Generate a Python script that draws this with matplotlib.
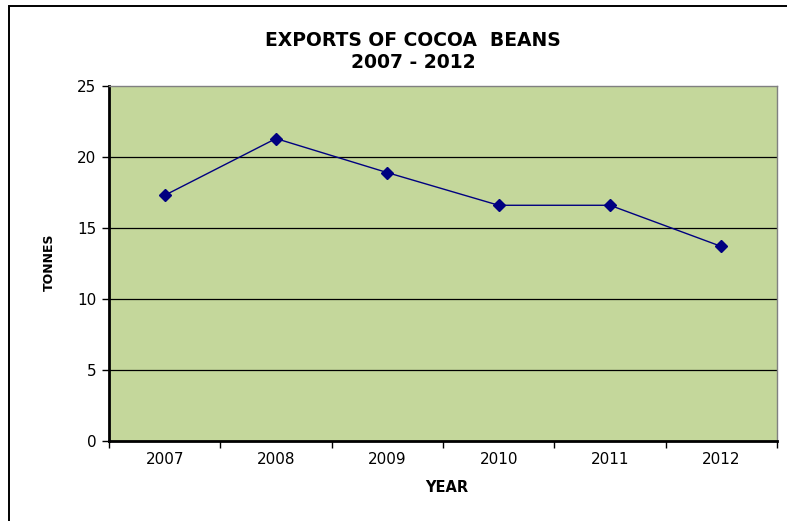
import numpy as np
import matplotlib.pyplot as plt
from matplotlib.patches import Rectangle

years = ['2007', '2008', '2009', '2010', '2011', '2012']
tonnes = [17.3, 21.3, 18.9, 16.6, 16.6, 13.7]
y_ticks = [0, 5, 10, 15, 20, 25]

plt.rcParams['font.family'] = ['DejaVu Sans']

fig = plt.figure(figsize=(7.87, 5.21), dpi=100)
# chart frame (only left and top edges visible in the crop)
fig.patches.append(Rectangle((8.5 / 787, -0.1), 1.1, 1 - 6 / 521 + 0.1, transform=fig.transFigure,
                             fill=False, edgecolor='black', linewidth=1.4))

ax = fig.add_axes([109 / 787, 80 / 521, 668 / 787, 355 / 521])
ax.set_facecolor('#c4d79b')

x = np.arange(len(years))
ax.plot(x, tonnes, color='#000080', linewidth=1.0, marker='D', markersize=6.5,
        markerfacecolor='#000080', markeredgecolor='#000080', zorder=3)

ax.set_xlim(-0.5, len(years) - 0.5)
ax.set_ylim(0, 25)
ax.set_yticks(y_ticks)
ax.tick_params(axis='y', labelsize=11, length=5, width=1, pad=4)
for yv in y_ticks[1:-1]:
    ax.axhline(yv, color='black', linewidth=0.9, zorder=1)

ax.set_xticks(x)
ax.set_xticklabels(years, fontsize=11)
ax.tick_params(axis='x', which='major', length=0, pad=8)
ax.set_xticks(np.arange(-0.5, len(years)), minor=True)
ax.tick_params(axis='x', which='minor', length=5, width=1)

for side in ['left', 'bottom']:
    ax.spines[side].set_linewidth(2)
    ax.spines[side].set_color('black')
for side in ['top', 'right']:
    ax.spines[side].set_linewidth(1)
    ax.spines[side].set_color('#808080')

fig.text(413 / 787, 1 - 40 / 521, 'EXPORTS OF COCOA  BEANS', ha='center', va='center',
         fontsize=13.5, fontweight='bold')
fig.text(413 / 787, 1 - 62 / 521, '2007 - 2012', ha='center', va='center',
         fontsize=13.5, fontweight='bold')
fig.text(49 / 787, 1 - 262 / 521, 'TONNES', ha='center', va='center', rotation=90,
         fontsize=9, fontweight='bold')
fig.text(447 / 787, 1 - 487 / 521, 'YEAR', ha='center', va='center',
         fontsize=10.5, fontweight='bold')

plt.savefig('out.png', dpi=100)
